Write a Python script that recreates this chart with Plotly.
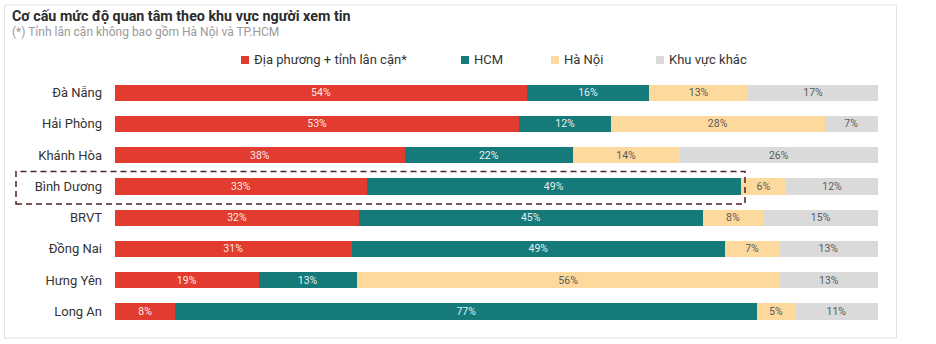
import plotly.graph_objects as go

categories = ["Đà Nẵng", "Hải Phòng", "Khánh Hòa", "Bình Dương", "BRVT", "Đồng Nai", "Hưng Yên", "Long An"]
local_vals = [54, 53, 38, 33, 32, 31, 19, 8]
hcm_vals = [16, 12, 22, 49, 45, 49, 13, 77]
hanoi_vals = [13, 28, 14, 6, 8, 7, 56, 5]
other_vals = [17, 7, 26, 12, 15, 13, 13, 11]

series_names = ["Địa phương + tỉnh lân cận*", "HCM", "Hà Nội", "Khu vực khác"]
series_values = [local_vals, hcm_vals, hanoi_vals, other_vals]
series_colors = ["#E23B2F", "#16797A", "#FDD99D", "#DADADA"]
text_colors = ["rgba(255,255,255,0.92)", "rgba(255,255,255,0.92)", "#5a5a5a", "#5a5a5a"]

FONT = "Roboto, Arial, sans-serif"
W, H = 936, 344
ML, MR, MT, MB = 115, 58, 77, 17
PW, PH = W - ML - MR, H - MT - MB


def px_x(p):
    return (p - ML) / PW


def px_y(p):
    return (H - MB - p) / PH


fig = go.Figure()
for name, vals, col, tcol in zip(series_names, series_values, series_colors, text_colors):
    fig.add_trace(go.Bar(
        y=categories, x=vals, orientation="h", name=name,
        marker=dict(color=col, line=dict(width=0)),
        text=[f"{v}%" for v in vals], texttemplate="%{text}",
        textposition="inside", insidetextanchor="middle",
        textfont=dict(family=FONT, size=10.5, color=tcol),
        constraintext="none", showlegend=False,
    ))

shapes = []
annotations = []

# card border
shapes.append(dict(type="rect", xref="paper", yref="paper",
                   x0=px_x(4.5), x1=px_x(896.5), y0=px_y(338), y1=px_y(5),
                   line=dict(color="#E2E2E2", width=1), fillcolor="rgba(0,0,0,0)", layer="below"))

# highlight box around Bình Dương
shapes.append(dict(type="rect", xref="paper", yref="paper",
                   x0=px_x(16), x1=px_x(745), y0=px_y(204), y1=px_y(171.5),
                   line=dict(color="#4E2424", width=1.5, dash="6px,4px"), fillcolor="rgba(0,0,0,0)"))

# title & subtitle
annotations.append(dict(xref="paper", yref="paper", x=px_x(10), y=px_y(16), xanchor="left", yanchor="middle",
                        text="<b>Cơ cấu mức độ quan tâm theo khu vực người xem tin</b>", showarrow=False,
                        font=dict(family=FONT, size=14.3, color="#2b2b2b")))
annotations.append(dict(xref="paper", yref="paper", x=px_x(10), y=px_y(32), xanchor="left", yanchor="middle",
                        text="(*) Tỉnh lân cận không bao gồm Hà Nội và TP.HCM", showarrow=False,
                        font=dict(family=FONT, size=12, color="#9a9a9a")))

# legend
legend_sq_x = [245, 465, 555, 660]
legend_y = 60
for sx, name, col in zip(legend_sq_x, series_names, series_colors):
    shapes.append(dict(type="rect", xref="paper", yref="paper",
                       x0=px_x(sx - 4), x1=px_x(sx + 4), y0=px_y(legend_y + 4), y1=px_y(legend_y - 4),
                       line=dict(width=0), fillcolor=col))
    annotations.append(dict(xref="paper", yref="paper", x=px_x(sx + 7), y=px_y(legend_y), xanchor="left",
                            yanchor="middle", text=name, showarrow=False,
                            font=dict(family=FONT, size=13, color="#333333")))

fig.update_layout(
    width=W, height=H,
    margin=dict(l=ML, r=MR, t=MT, b=MB),
    barmode="stack", barnorm="percent", bargap=0.48,
    plot_bgcolor="white", paper_bgcolor="white",
    font=dict(family=FONT),
    xaxis=dict(range=[0, 100], visible=False, fixedrange=True),
    yaxis=dict(autorange="reversed", categoryorder="array", categoryarray=categories,
               showgrid=False, zeroline=False, showline=False, ticks="",
               ticklabelstandoff=12, tickfont=dict(family=FONT, size=13, color="#333333")),
    shapes=shapes, annotations=annotations,
)

fig.write_html("out.html")
